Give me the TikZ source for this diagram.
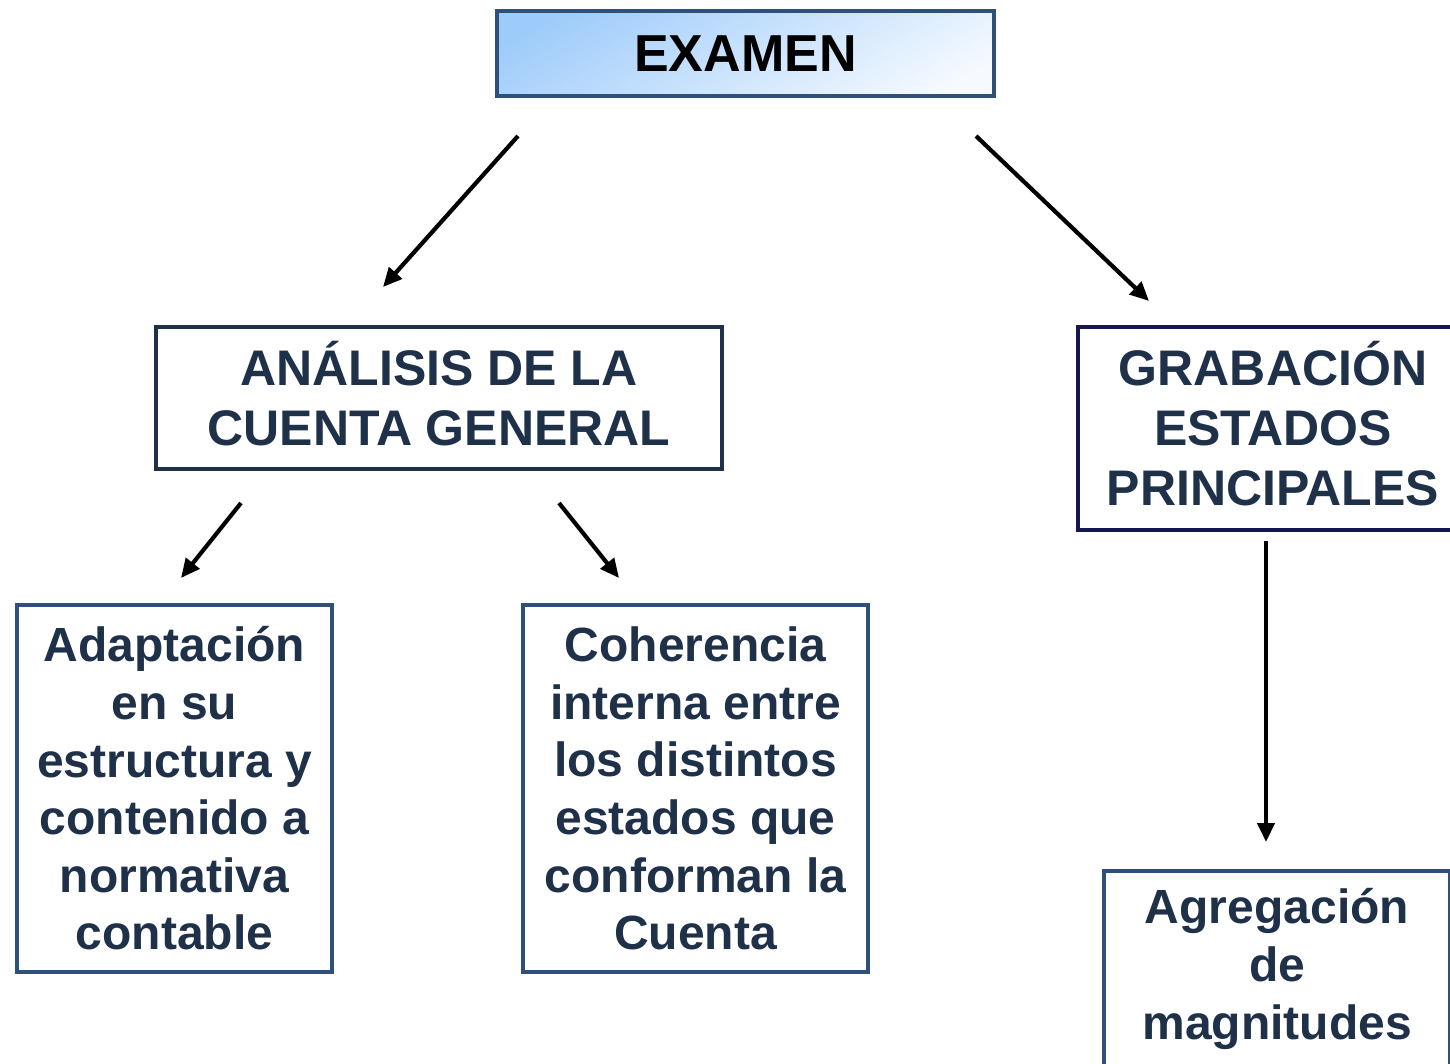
\documentclass[tikz,border=0pt]{standalone}
\usepackage{fontspec}
\setmainfont{Liberation Sans}
\usetikzlibrary{arrows.meta}
\definecolor{txtnavy}{HTML}{1F3049}
\definecolor{boxblue}{HTML}{2F5078}
\definecolor{boxdark}{HTML}{1F3049}
\definecolor{boxindigo}{HTML}{16174F}
\definecolor{gradA}{HTML}{9DCBFA}
\definecolor{gradB}{HTML}{F6FAFF}
\pgfdeclareverticalshading{examshade}{100bp}{color(0bp)=(gradB); color(22bp)=(gradB); color(78bp)=(gradA); color(100bp)=(gradA)}
\tikzset{
  box/.style={draw=boxblue, line width=4pt, rectangle, align=center, inner sep=0pt,
    text=txtnavy, font=\fontsize{48}{57.6}\selectfont\bfseries},
  headbox/.style={box, font=\fontsize{50}{60}\selectfont\bfseries, text depth=10pt},
  arr/.style={line width=4.2pt, -{Triangle[length=19pt,width=17pt]}, black}
}
\begin{document}
\begin{tikzpicture}[x=1pt,y=-1pt]
\useasboundingbox (0,0) rectangle (1450,1063);
\node[box, draw=boxblue, shade, shading=examshade, shading angle=30,
  minimum width=497pt, minimum height=85pt, text=black,
  font=\fontsize{52}{62}\selectfont\bfseries] (examen) at (745.5,53.5) {EXAMEN};
\node[headbox, draw=boxdark, minimum width=566pt, minimum height=142pt] (analisis) at (439,398)
  {ANÁLISIS DE LA\\CUENTA GENERAL};
\node[headbox, draw=boxindigo, minimum width=390pt, minimum height=203pt] (grabacion) at (1273,428.5)
  {GRABACIÓN\\ESTADOS\\PRINCIPALES};
\node[box, minimum width=315pt, minimum height=367pt] (adapt) at (174.5,788.5)
  {Adaptación\\en su\\estructura y\\contenido a\\normativa\\contable};
\node[box, minimum width=345pt, minimum height=367pt] (coher) at (695.5,788.5)
  {Coherencia\\interna entre\\los distintos\\estados que\\conforman la\\Cuenta};
\node[box, minimum width=346pt, minimum height=196pt] (agreg) at (1277,969)
  {Agregación\\de\\magnitudes};
% connector end points
\coordinate (e1s) at (518,136);  \coordinate (e1t) at (383,287);
\coordinate (e2s) at (976,136);  \coordinate (e2t) at (1149,301);
\coordinate (a1s) at (241,503);  \coordinate (a1t) at (181,578);
\coordinate (a2s) at (559,503);  \coordinate (a2t) at (619,578);
\coordinate (g1s) at (1266,541); \coordinate (g1t) at (1266,842);
\draw[arr] (e1s) -- (e1t);
\draw[arr] (e2s) -- (e2t);
\draw[arr] (a1s) -- (a1t);
\draw[arr] (a2s) -- (a2t);
\draw[arr] (g1s) -- (g1t);
\end{tikzpicture}
\end{document}
